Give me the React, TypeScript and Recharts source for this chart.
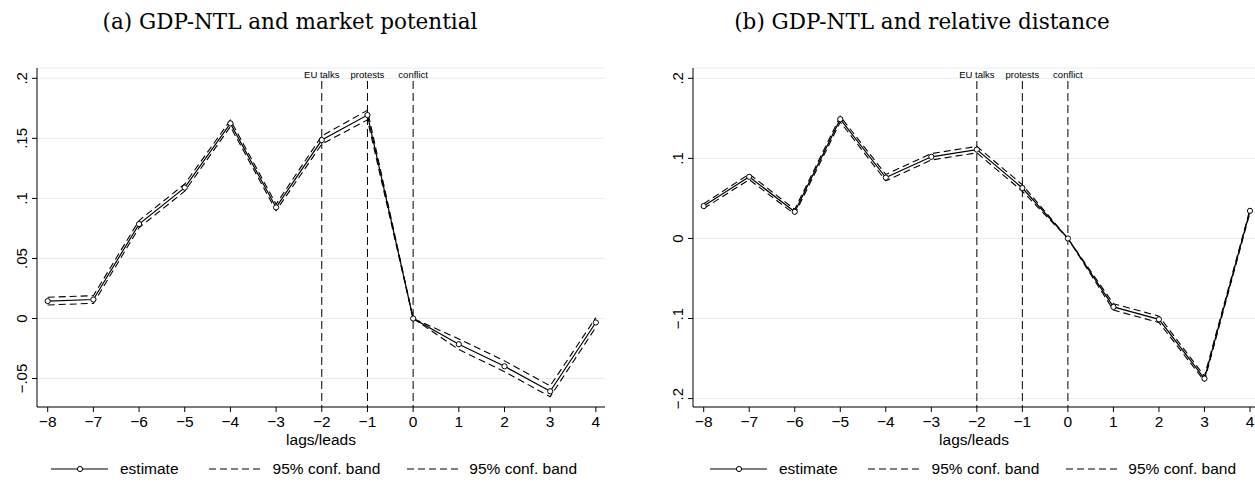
import React from 'react';
import { LineChart, Line, XAxis, YAxis, CartesianGrid, ReferenceLine } from 'recharts';

const lags = [-8, -7, -6, -5, -4, -3, -2, -1, 0, 1, 2, 3, 4];
const xTickLabels = ['−8', '−7', '−6', '−5', '−4', '−3', '−2', '−1', '0', '1', '2', '3', '4'];

// Panel (a): GDP-NTL and market potential
const estA = [0.0145, 0.0158, 0.0786, 0.109, 0.1625, 0.0925, 0.1486, 0.1694, 0, -0.0214, -0.0398, -0.0606, -0.0033];
const upA = [0.0177, 0.019, 0.0816, 0.112, 0.1652, 0.0952, 0.152, 0.1734, 0, -0.017, -0.0353, -0.0561, 0.0007];
const loA = [0.0113, 0.0126, 0.0756, 0.106, 0.1598, 0.0898, 0.1452, 0.1654, 0, -0.0258, -0.0443, -0.0651, -0.0073];
const yTicksA = [-0.05, 0, 0.05, 0.1, 0.15, 0.2];
const yTickLabelsA = ['−.05', '0', '.05', '.1', '.15', '.2'];

// Panel (b): GDP-NTL and relative distance
const estB = [0.0404, 0.077, 0.0333, 0.149, 0.076, 0.102, 0.111, 0.063, 0, -0.0855, -0.101, -0.175, 0.0345];
const upB = [0.0434, 0.0805, 0.0363, 0.1525, 0.080, 0.106, 0.115, 0.067, 0, -0.0815, -0.097, -0.172, 0.0365];
const loB = [0.0374, 0.0735, 0.0303, 0.1455, 0.072, 0.098, 0.107, 0.059, 0, -0.0895, -0.105, -0.178, 0.0325];
const yTicksB = [-0.2, -0.1, 0, 0.1, 0.2];
const yTickLabelsB = ['−.2', '−.1', '0', '.1', '.2'];

const eventLags = [-2, -1, 0];
const eventLabels = ['EU talks', 'protests', 'conflict'];
const titles = ['(a) GDP-NTL and market potential', '(b) GDP-NTL and relative distance'];
const legendLabels = ['estimate', '95% conf. band', '95% conf. band'];

const SANS = '"Liberation Sans", Arial, Helvetica, sans-serif';
const SERIF = '"DejaVu Serif", serif';
const DASH = '7 4';

function makeRows(est: number[], up: number[], lo: number[]) {
  return lags.map((x, i) => ({ x, est: est[i], up: up[i], lo: lo[i] }));
}

function makeYTick(values: number[], labels: string[]) {
  return (props: any) => {
    const { x, y, payload } = props;
    let idx = 0;
    let best = Infinity;
    values.forEach((v, i) => {
      const d = Math.abs(v - payload.value);
      if (d < best) { best = d; idx = i; }
    });
    return (
      <text x={x} y={y} transform={`rotate(-90 ${x} ${y})`} textAnchor="middle"
        fontSize={15} fontFamily={SANS} fill="#000">{labels[idx]}</text>
    );
  };
}

function xFmt(v: number) {
  const i = lags.indexOf(v);
  return i >= 0 ? xTickLabels[i] : String(v);
}

type PanelProps = {
  left: number; width: number; marginRight: number;
  est: number[]; up: number[]; lo: number[];
  yDomain: [number, number]; xDomain: [number, number];
  yTicks: number[]; yLabels: string[]; lineTop: number;
};

function Panel(p: PanelProps) {
  const data = makeRows(p.est, p.up, p.lo);
  return (
    <div style={{ position: 'absolute', left: p.left, top: 0 }}>
      <LineChart width={p.width} height={483} data={data}
        margin={{ top: 68, right: p.marginRight, left: 0, bottom: 0 }}>
        <CartesianGrid vertical={false} stroke="#e6eff1" strokeWidth={1} />
        <XAxis dataKey="x" type="number" domain={p.xDomain} ticks={lags} allowDataOverflow
          tickFormatter={xFmt} height={76} stroke="#000" tickSize={5} tickMargin={4}
          tick={{ fill: '#000', fontSize: 15.5, fontFamily: SANS }} interval={0}
          label={{ value: 'lags/leads', position: 'insideTop', offset: 27, fill: '#000', fontSize: 15.5, fontFamily: SANS }} />
        <YAxis type="number" domain={p.yDomain} ticks={p.yTicks} allowDataOverflow width={37}
          stroke="#000" tickSize={5} tickMargin={5} interval={0}
          tick={makeYTick(p.yTicks, p.yLabels)} />
        {eventLags.map((lx, i) => (
          <ReferenceLine key={lx}
            segment={[{ x: lx, y: p.lineTop }, { x: lx, y: p.yDomain[0] }]}
            stroke="#000" strokeWidth={1} strokeDasharray="8 4" ifOverflow="visible"
            label={{ value: eventLabels[i], position: 'top', offset: 3, fill: '#000', fontSize: 9.5, fontFamily: SANS }} />
        ))}
        <Line dataKey="up" type="linear" stroke="#000" strokeWidth={1.1} strokeDasharray={DASH}
          dot={false} isAnimationActive={false} />
        <Line dataKey="lo" type="linear" stroke="#000" strokeWidth={1.1} strokeDasharray={DASH}
          dot={false} isAnimationActive={false} />
        <Line dataKey="est" type="linear" stroke="#000" strokeWidth={1.2}
          dot={{ r: 2.6, fill: '#fff', stroke: '#000', strokeWidth: 1 }} isAnimationActive={false} />
      </LineChart>
    </div>
  );
}

function LegendRow({ left, width }: { left: number; width: number }) {
  return (
    <div style={{
      position: 'absolute', left, width, top: 459, height: 20, display: 'flex',
      justifyContent: 'center', alignItems: 'center', fontFamily: SANS, fontSize: 15.5, color: '#000',
      whiteSpace: 'nowrap',
    }}>
      <svg width={57} height={10}>
        <line x1={0} y1={5} x2={57} y2={5} stroke="#000" strokeWidth={1.2} />
        <circle cx={29} cy={5} r={2.6} fill="#fff" stroke="#000" strokeWidth={1} />
      </svg>
      <span style={{ marginLeft: 12, marginRight: 30 }}>{legendLabels[0]}</span>
      <svg width={54} height={10}>
        <line x1={0} y1={5} x2={54} y2={5} stroke="#000" strokeWidth={1.1} strokeDasharray={DASH} />
      </svg>
      <span style={{ marginLeft: 10, marginRight: 27 }}>{legendLabels[1]}</span>
      <svg width={54} height={10}>
        <line x1={0} y1={5} x2={54} y2={5} stroke="#000" strokeWidth={1.1} strokeDasharray={DASH} />
      </svg>
      <span style={{ marginLeft: 8 }}>{legendLabels[2]}</span>
    </div>
  );
}

function Title({ center, text }: { center: number; text: string }) {
  return (
    <div style={{
      position: 'absolute', left: center - 250, width: 500, top: 9, textAlign: 'center',
      fontFamily: SERIF, fontSize: 21.5, color: '#000', whiteSpace: 'nowrap',
    }}>{text}</div>
  );
}

export default function App() {
  return (
    <div style={{ position: 'absolute', left: 0, top: 0, width: 1255, height: 483, background: '#fff', overflow: 'hidden' }}>
      <Title center={290} text={titles[0]} />
      <Title center={922} text={titles[1]} />
      <Panel left={0} width={620} marginRight={15} est={estA} up={upA} lo={loA}
        yDomain={[-0.0737, 0.2086]} xDomain={[-8.234, 4.2]} yTicks={yTicksA} yLabels={yTickLabelsA}
        lineTop={0.1978} />
      <Panel left={656} width={599} marginRight={0} est={estB} up={upB} lo={loB}
        yDomain={[-0.2105, 0.2129]} xDomain={[-8.235, 4.11]} yTicks={yTicksB} yLabels={yTickLabelsB}
        lineTop={0.1966} />
      <LegendRow left={0} width={628} />
      <LegendRow left={693} width={560} />
    </div>
  );
}
